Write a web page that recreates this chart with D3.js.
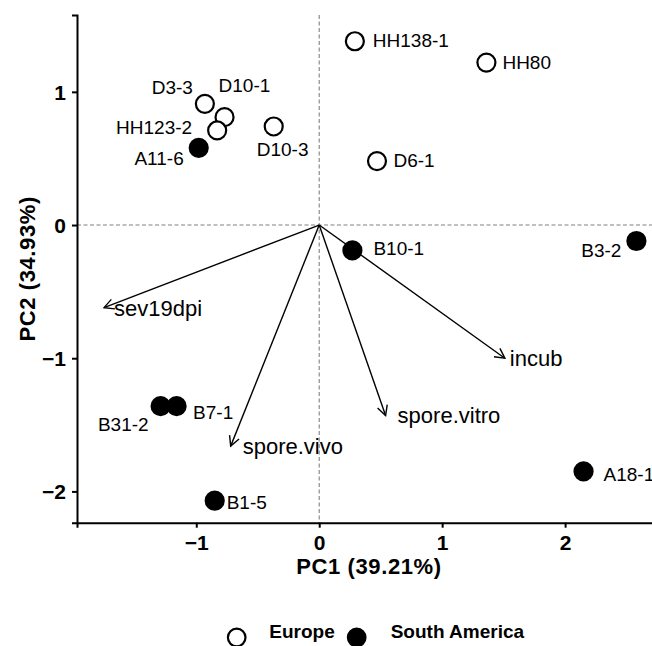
<!DOCTYPE html>
<html>
<head>
<meta charset="utf-8">
<script src="https://cdn.jsdelivr.net/npm/d3@7"></script>
<style>
  html, body { margin: 0; padding: 0; background: #fff; }
  svg { display: block; font-family: "Liberation Sans", Arial, sans-serif; }
</style>
</head>
<body>
<svg id="chart" width="652" height="646"></svg>
<script>
// PCA biplot of isolates (PC1 vs PC2) with trait loading vectors

// Isolate scores
const isolates = ["HH138-1", "HH80", "D3-3", "D10-1", "HH123-2", "D10-3", "D6-1",
                  "A11-6", "B10-1", "B3-2", "B31-2", "B7-1", "B1-5", "A18-1"];
const pc1 = [0.29, 1.36, -0.93, -0.77, -0.83, -0.37, 0.47,
             -0.98, 0.27, 2.58, -1.29, -1.16, -0.85, 2.15];
const pc2 = [1.38, 1.22, 0.91, 0.81, 0.71, 0.74, 0.48,
             0.58, -0.19, -0.12, -1.36, -1.36, -2.07, -1.85];
const origin = ["Europe", "Europe", "Europe", "Europe", "Europe", "Europe", "Europe",
                "South America", "South America", "South America", "South America",
                "South America", "South America", "South America"];

// Trait loadings (arrow tips)
const traits = ["sev19dpi", "incub", "spore.vitro", "spore.vivo"];
const loadPC1 = [-1.75, 1.51, 0.54, -0.72];
const loadPC2 = [-0.62, -1.00, -1.43, -1.66];

// Axis ticks and titles
const xTicks = [-1, 0, 1, 2];
const yTicks = [-2, -1, 0, 1];
const xTitle = "PC1 (39.21%)";
const yTitle = "PC2 (34.93%)";
const groups = ["Europe", "South America"];

// Label placement (pixel offsets from each point, text anchor)
const labelPlacement = {
  "HH138-1": [18, 6, "start"],
  "HH80":    [16, 6.5, "start"],
  "D3-3":    [-12, -9.5, "end"],
  "D10-1":   [-6, -25.5, "start"],
  "HH123-2": [-25, 3.5, "end"],
  "D10-3":   [-17, 29.5, "start"],
  "D6-1":    [16.5, 6, "start"],
  "A11-6":   [-15, 17.5, "end"],
  "B10-1":   [21, 5, "start"],
  "B3-2":    [-15, 16, "end"],
  "B31-2":   [-12, 25, "end"],
  "B7-1":    [16.5, 12.5, "start"],
  "B1-5":    [12, 8.5, "start"],
  "A18-1":   [20, 10, "start"]
};
const traitLabelGap = {"sev19dpi": 10, "incub": 5, "spore.vitro": 12, "spore.vivo": 12};

const svg = d3.select("#chart");
const plotLeft = 77, plotTop = 15, plotRight = 661, plotBottom = 522.7;

const x = d3.scaleLinear().domain([-1.97, 2.78]).range([plotLeft, plotRight]);
const y = d3.scaleLinear().domain([-2.235, 1.577]).range([plotBottom, plotTop]);
const fill = d3.scaleOrdinal().domain(groups).range(["#ffffff", "#000000"]);

// Reference lines through the origin
svg.append("line")
  .attr("x1", x(0)).attr("x2", x(0)).attr("y1", plotTop).attr("y2", plotBottom)
  .attr("stroke", "#808080").attr("stroke-width", 1.1).attr("stroke-dasharray", "4,2.5");
svg.append("line")
  .attr("x1", plotLeft).attr("x2", plotRight).attr("y1", y(0)).attr("y2", y(0))
  .attr("stroke", "#808080").attr("stroke-width", 1.1).attr("stroke-dasharray", "4,2.5");

// Axes
const xAxis = svg.append("g")
  .attr("transform", `translate(0,${plotBottom})`)
  .call(d3.axisBottom(x).tickValues(xTicks).tickFormat(d3.format("d")).tickSizeOuter(0).tickSize(5).tickPadding(7));
const yAxis = svg.append("g")
  .attr("transform", `translate(${plotLeft},0)`)
  .call(d3.axisLeft(y).tickValues(yTicks).tickFormat(d3.format("d")).tickSizeOuter(0).tickSize(5).tickPadding(6));
[xAxis, yAxis].forEach(g => {
  g.select(".domain").attr("stroke", "#000").attr("stroke-width", 2);
  g.selectAll(".tick line").attr("stroke", "#000").attr("stroke-width", 2);
  g.selectAll(".tick text")
    .attr("fill", "#000")
    .style("font-size", "21px")
    .style("font-weight", "bold")
    .style("font-family", "'Liberation Sans', Arial, sans-serif");
});
yAxis.selectAll(".tick text").attr("dy", "0.36em");

// Axis titles
svg.append("text")
  .attr("x", (plotLeft + plotRight) / 2).attr("y", 574)
  .attr("text-anchor", "middle")
  .style("font-size", "22px").style("font-weight", "bold").style("letter-spacing", "0.6px")
  .text(xTitle);
svg.append("text")
  .attr("transform", `translate(35,${(plotTop + plotBottom) / 2}) rotate(-90)`)
  .attr("text-anchor", "middle")
  .style("font-size", "22px").style("font-weight", "bold").style("letter-spacing", "0.6px")
  .text(yTitle);

// Loading arrows
const arrows = svg.append("g");
traits.forEach((t, i) => {
  const x0 = x(0), y0 = y(0), x1 = x(loadPC1[i]), y1 = y(loadPC2[i]);
  const ang = Math.atan2(y1 - y0, x1 - x0);
  const head = 11, spread = Math.PI / 6.5;
  arrows.append("line")
    .attr("x1", x0).attr("y1", y0).attr("x2", x1).attr("y2", y1)
    .attr("stroke", "#000").attr("stroke-width", 1.4);
  arrows.append("path")
    .attr("d", `M${x1 - head * Math.cos(ang - spread)},${y1 - head * Math.sin(ang - spread)}` +
               `L${x1},${y1}` +
               `L${x1 - head * Math.cos(ang + spread)},${y1 - head * Math.sin(ang + spread)}`)
    .attr("fill", "none").attr("stroke", "#000").attr("stroke-width", 1.4);
  arrows.append("text")
    .attr("x", x1 + traitLabelGap[t]).attr("y", y1 + 8)
    .style("font-size", "22px")
    .text(t);
});

// Isolate points
const pts = isolates.map((name, i) => ({name, pc1: pc1[i], pc2: pc2[i], origin: origin[i]}));
svg.append("g").selectAll("circle").data(pts).join("circle")
  .attr("cx", d => x(d.pc1)).attr("cy", d => y(d.pc2))
  .attr("r", 9)
  .attr("fill", d => fill(d.origin))
  .attr("stroke", "#000").attr("stroke-width", 2.2);

svg.append("g").selectAll("text").data(pts).join("text")
  .attr("x", d => x(d.pc1) + labelPlacement[d.name][0])
  .attr("y", d => y(d.pc2) + labelPlacement[d.name][1])
  .attr("text-anchor", d => labelPlacement[d.name][2])
  .style("font-size", "19px")
  .text(d => d.name);

// Legend
const legendItems = [
  {g: groups[0], cx: 236.7, tx: 269.3},
  {g: groups[1], cx: 356.7, tx: 390.7}
];
const legend = svg.append("g");
legendItems.forEach(item => {
  legend.append("circle")
    .attr("cx", item.cx).attr("cy", 637.5).attr("r", 8.8)
    .attr("fill", fill(item.g)).attr("stroke", "#000").attr("stroke-width", 2.2);
  legend.append("text")
    .attr("x", item.tx).attr("y", 638)
    .style("font-size", "19px").style("font-weight", "bold")
    .text(item.g);
});
</script>
</body>
</html>
